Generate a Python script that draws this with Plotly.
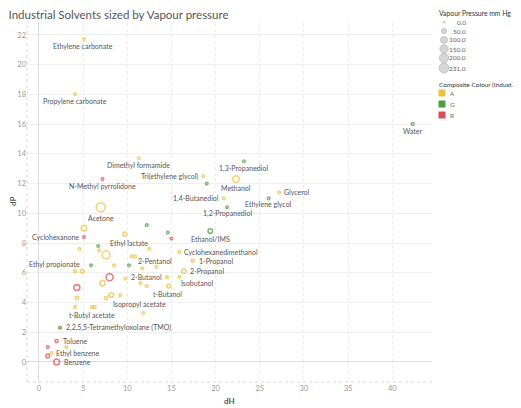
import math
import plotly.graph_objects as go

# ---------------- data ----------------
solvent = [
    "Ethylene carbonate", "Propylene carbonate", "Dimethyl formamide", "N-Methyl pyrrolidone",
    "Acetone", "Tri(ethylene glycol)", "", "1,3-Propanediol", "Methanol", "1,4-Butanediol",
    "1,2-Propanediol", "Ethylene glycol", "Glycerol", "Ethanol/IMS", "Water", "Cyclohexanone",
    "", "", "", "", "", "Ethyl lactate", "", "", "", "", "", "", "", "", "Ethyl propionate",
    "", "", "", "", "Isopropyl acetate", "", "", "", "t-Butyl acetate", "", "", "", "",
    "2,2,5,5-Tetramethyloxolane (TMO)", "Toluene", "", "", "Ethyl benzene", "", "Benzene",
    "", "", "2-Pentanol", "", "Cyclohexanedimethanol", "1-Propanol", "2-Propanol", "2-Butanol",
    "Isobutanol", "t-Butanol", "", "",
]
dH = [
    5.1, 4.1, 11.3, 7.2,
    7.0, 18.6, 19.0, 23.2, 22.3, 20.9,
    21.3, 26.0, 27.2, 19.4, 42.3, 5.1,
    5.1, 9.7, 12.2, 14.6, 15.0, 12.5, 6.7, 4.6, 6.8, 7.6, 8.5, 5.9, 10.2, 4.1, 4.9,
    8.0, 7.2, 4.3, 9.8, 8.2, 7.6, 9.2, 4.3, 6.0, 6.3, 4.1, 11.8, 2.4,
    2.4, 2.0, 1.0, 3.1, 1.4, 1.0, 2.0,
    10.5, 10.9, 13.3, 11.7, 15.9, 17.4, 16.4, 14.5,
    15.9, 14.7, 11.5, 12.2,
]
dP = [
    21.7, 18.0, 13.7, 12.3,
    10.4, 12.5, 12.0, 13.5, 12.3, 11.0,
    10.4, 11.0, 11.4, 8.8, 16.0, 8.4,
    9.0, 8.6, 9.2, 8.7, 8.3, 7.6, 7.8, 7.6, 7.5, 7.2, 6.5, 6.5, 6.5, 6.1, 6.1,
    5.7, 5.3, 5.0, 5.6, 4.5, 4.3, 4.5, 4.3, 3.7, 3.7, 3.7, 3.3, 2.3,
    2.3, 1.4, 1.0, 1.0, 0.6, 0.4, 0.0,
    7.1, 7.1, 6.4, 6.3, 7.4, 6.8, 6.1, 5.7,
    5.7, 5.1, 5.3, 5.1,
]
vapour = [
    0, 0, 3, 0,
    231, 0, 0, 0, 127, 0,
    0, 0, 0, 59, 24, 4,
    90, 46, 0, 0, 0, 2, 0, 15, 0, 173, 0, 0, 0, 23, 40,
    143, 80, 100, 0, 60, 28, 0, 33, 25, 25, 0, 0, 12,
    0, 28, 0, 0, 7, 40, 95,
    0, 0, 4, 0, 0, 25, 50, 20,
    10, 45, 0, 0,
]
colour = [
    "A", "A", "A", "R",
    "A", "A", "G", "G", "A", "A",
    "G", "G", "A", "G", "G", "R",
    "A", "A", "G", "G", "R", "A", "G", "A", "A", "A", "A", "G", "G", "A", "A",
    "R", "A", "R", "A", "A", "A", "A", "A", "A", "A", "A", "A", "A",
    "G", "R", "R", "A", "A", "R", "R",
    "A", "A", "A", "A", "A", "A", "A", "A",
    "A", "A", "A", "A",
]
size_legend_values = [0.0, 50.0, 100.0, 150.0, 200.0, 231.0]
colour_categories = ["A", "G", "R"]
x_ticks = [0, 5, 10, 15, 20, 25, 30, 35, 40]
y_ticks = [0, 2, 4, 6, 8, 10, 12, 14, 16, 18, 20, 22]

# ---------------- styles ----------------
COL = {"A": "#EBC13F", "G": "#4F9C45", "R": "#DD4B56"}
FONT = "Lato"
TXT = "#555555"
VMAX = 231.0
LABEL_SIZE = 7


def msize(v):
    return max(2.6, 9.0 * math.sqrt(v / VMAX))


# label placement (anchor, dx px, dy px; dy positive = down)
label_pos = {
    "Ethylene carbonate": ("center", -1, 7),
    "Propylene carbonate": ("center", 0, 7),
    "Dimethyl formamide": ("center", 0, 7),
    "N-Methyl pyrrolidone": ("center", 0, 7),
    "Acetone": ("center", 0, 11),
    "Tri(ethylene glycol)": ("right", -3, 0),
    "1,3-Propanediol": ("center", 0, 7),
    "Methanol": ("center", 0, 9),
    "1,4-Butanediol": ("right", -3, 0),
    "Glycerol": ("left", 3, 0),
    "Ethylene glycol": ("center", 0, 6),
    "1,2-Propanediol": ("center", 0, 6),
    "Ethanol/IMS": ("center", 0, 8),
    "Water": ("center", 0, 7),
    "Cyclohexanone": ("right", -3, 0),
    "Ethyl lactate": ("right", 1, -6),
    "Ethyl propionate": ("right", 0, -7),
    "2-Pentanol": ("center", -1, -6),
    "Cyclohexanedimethanol": ("left", 3, 0),
    "1-Propanol": ("left", 4, 0),
    "2-Propanol": ("left", 4, 0),
    "2-Butanol": ("right", -3, 0),
    "Isobutanol": ("left", 0, 6),
    "t-Butanol": ("center", -1, 8),
    "Isopropyl acetate": ("left", 0, 9),
    "t-Butyl acetate": ("center", 0, 8),
    "2,2,5,5-Tetramethyloxolane (TMO)": ("left", 4, 0),
    "Toluene": ("left", 4, 0),
    "Ethyl benzene": ("left", 3, 0),
    "Benzene": ("left", 5, 0),
}

# page body has an 8px margin: figure occupies window pixels 8..521 x 8..408
OFF = 8
W, H = 521 - OFF, 408 - OFF
ML, MR, MT, MB = 27 - OFF, 521 - 432, 23 - OFF, 408 - 382
PW, PH = W - ML - MR, H - MT - MB


def px_x(p):  # window pixel -> paper x
    return (p - OFF - ML) / PW


def px_y(p):  # window pixel -> paper y
    return (H - MB - (p - OFF)) / PH


fig = go.Figure()

for c in colour_categories:
    idx = [i for i in range(len(dH)) if colour[i] == c]
    fig.add_trace(go.Scatter(
        x=[dH[i] for i in idx], y=[dP[i] for i in idx],
        mode="markers",
        text=[solvent[i] for i in idx],
        marker=dict(symbol="circle-open", size=[msize(vapour[i]) for i in idx],
                    color=COL[c], line=dict(width=1.6, color=COL[c])),
        showlegend=False, hoverinfo="text+x+y",
    ))

annotations = []
for i, name in enumerate(solvent):
    if not name:
        continue
    anchor, dx, dy = label_pos[name]
    annotations.append(dict(
        x=dH[i], y=dP[i], xref="x", yref="y", text=name, showarrow=False,
        xanchor=anchor, yanchor="middle", xshift=dx, yshift=-dy,
        font=dict(family=FONT, size=LABEL_SIZE, color=TXT),
    ))

# size legend
annotations.append(dict(x=px_x(437), y=px_y(13), xref="paper", yref="paper",
                        text="Vapour Pressure mm Hg", showarrow=False,
                        xanchor="left", yanchor="middle",
                        font=dict(family=FONT, size=6.8, color="#333")))
shapes = []
leg_rows = [22, 31, 40, 49, 58, 68]
for v, ry in zip(size_legend_values, leg_rows):
    r = max(1.0, msize(v) / 2 + 0.5) if v > 0 else 0.9
    shapes.append(dict(type="circle", xref="paper", yref="paper",
                       xsizemode="pixel", ysizemode="pixel",
                       xanchor=px_x(444), yanchor=px_y(ry),
                       x0=-r, x1=r, y0=-r, y1=r,
                       fillcolor="#d6d6d6", line=dict(color="#bdbdbd", width=0.8)))
    annotations.append(dict(x=px_x(468), y=px_y(ry), xref="paper", yref="paper",
                            text=f"{v:.1f}", showarrow=False, xanchor="right",
                            yanchor="middle", font=dict(family=FONT, size=6.5, color="#666")))

# colour legend
annotations.append(dict(x=px_x(437), y=px_y(84), xref="paper", yref="paper",
                        text="Composite Colour (Indust...", showarrow=False,
                        xanchor="left", yanchor="middle",
                        font=dict(family=FONT, size=6.5, color="#333")))
for c, ry in zip(colour_categories, [93, 104, 115]):
    shapes.append(dict(type="rect", xref="paper", yref="paper",
                       xsizemode="pixel", ysizemode="pixel",
                       xanchor=px_x(442), yanchor=px_y(ry),
                       x0=-3.5, x1=3.5, y0=-3.5, y1=3.5,
                       fillcolor=COL[c], line=dict(width=0)))
    annotations.append(dict(x=px_x(448), y=px_y(ry), xref="paper", yref="paper",
                            text=c, showarrow=False, xanchor="left", yanchor="middle",
                            font=dict(family=FONT, size=6.5, color="#666")))

# dotted plot edges
shapes.append(dict(type="line", xref="paper", yref="paper", x0=0, x1=0, y0=0, y1=1,
                   line=dict(color="#d8d8d8", width=1, dash="dot")))
shapes.append(dict(type="line", xref="paper", yref="paper", x0=0, x1=1, y0=0, y1=0,
                   line=dict(color="#d8d8d8", width=1, dash="dot")))

# axis titles as annotations
annotations.append(dict(x=px_x(13), y=px_y(202), xref="paper", yref="paper",
                        text="<b>dP</b>", showarrow=False, textangle=-90,
                        xanchor="center", yanchor="middle",
                        font=dict(family=FONT, size=8, color=TXT)))
annotations.append(dict(x=px_x(229), y=px_y(401), xref="paper", yref="paper",
                        text="<b>dH</b>", showarrow=False,
                        xanchor="center", yanchor="middle",
                        font=dict(family=FONT, size=8, color=TXT)))

fig.update_layout(
    width=W, height=H,
    margin=dict(l=ML, r=MR, t=MT, b=MB),
    paper_bgcolor="white", plot_bgcolor="white",
    title=dict(text="Industrial Solvents sized by Vapour pressure", x=0.5 / W, xanchor="left",
               y=0.993, yanchor="top",
               font=dict(family=FONT, size=11.5, color=TXT)),
    annotations=annotations, shapes=shapes,
    showlegend=False,
    xaxis=dict(range=[-1.35, 44.5], tickvals=x_ticks, showgrid=True, gridcolor="#ececec",
               griddash="dot", zeroline=True, zerolinecolor="#dcdcdc", zerolinewidth=1,
               showline=False, ticks="", automargin=False,
               tickfont=dict(family=FONT, size=7.5, color="#999")),
    yaxis=dict(range=[-1.35, 22.8], tickvals=y_ticks, showgrid=True, gridcolor="#efefef",
               zeroline=True, zerolinecolor="#dcdcdc", zerolinewidth=1,
               showline=False, ticks="", automargin=False,
               tickfont=dict(family=FONT, size=7.5, color="#999")),
    font=dict(family=FONT),
)

fig.write_html("out.html")
